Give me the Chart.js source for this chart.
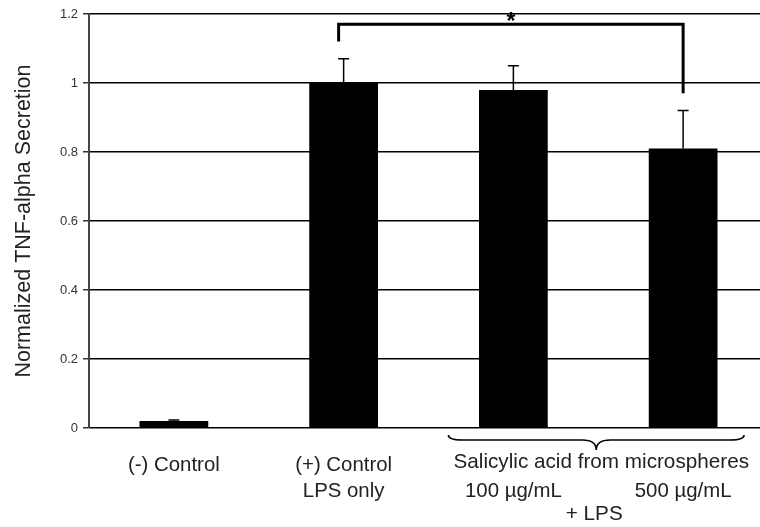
<!DOCTYPE html>
<html lang="en">
<head>
  <meta charset="UTF-8">
  <title>TNF-alpha Secretion</title>
  <script src="https://cdn.jsdelivr.net/npm/chart.js"></script>
  <style>
    html, body { margin: 0; padding: 0; background: #fff; overflow: hidden; }
    canvas { display: block; }
  </style>
</head>
<body>
  <canvas id="grafico" width="768" height="527"></canvas>

  <script>
    // data
    const categories = [['(-) Control'], ['(+) Control', 'LPS only'], ['', '100 µg/mL'], ['', '500 µg/mL']];
    const values = [0.02, 1.0, 0.98, 0.81];
    const errors = [0.003, 0.07, 0.07, 0.11];
    const yTicks = [0, 0.2, 0.4, 0.6, 0.8, 1, 1.2];
    const groupLabel = 'Salicylic acid from microspheres';
    const groupSub = '+ LPS';
    const yTitle = 'Normalized TNF-alpha Secretion';
    // significance bracket between (+) Control and 500 µg/mL
    const sigFrom = 1, sigTo = 3;
    const sigLevels = [1.12, 1.17, 0.97];
    const sigMark = '*';

    const FONT = "'Liberation Sans', Arial, sans-serif";
    const TEXT = '#222';

    const extras = {
      id: 'extras',
      afterDatasetsDraw(chart) {
        const ctx = chart.ctx;
        const x = chart.scales.x, y = chart.scales.y;
        const area = chart.chartArea;
        ctx.save();

        // error bars (upper only)
        ctx.strokeStyle = '#000';
        ctx.lineWidth = 1.5;
        values.forEach((v, i) => {
          const cx = x.getPixelForValue(i);
          const y0 = y.getPixelForValue(v);
          const y1 = y.getPixelForValue(v + errors[i]);
          ctx.beginPath();
          ctx.moveTo(cx, y0);
          ctx.lineTo(cx, y1);
          ctx.moveTo(cx - 5.5, y1);
          ctx.lineTo(cx + 5.5, y1);
          ctx.stroke();
        });

        // significance bracket
        const bx1 = x.getPixelForValue(sigFrom) - 5;
        const bx2 = x.getPixelForValue(sigTo);
        ctx.lineWidth = 3;
        ctx.lineCap = 'butt';
        ctx.beginPath();
        ctx.moveTo(bx1, y.getPixelForValue(sigLevels[0]));
        ctx.lineTo(bx1, y.getPixelForValue(sigLevels[1]));
        ctx.lineTo(bx2, y.getPixelForValue(sigLevels[1]));
        ctx.lineTo(bx2, y.getPixelForValue(sigLevels[2]));
        ctx.stroke();
        ctx.fillStyle = '#000';
        ctx.font = 'bold 23px ' + FONT;
        ctx.textAlign = 'center';
        ctx.textBaseline = 'top';
        ctx.fillText(sigMark, (bx1 + bx2) / 2, area.top - 3);

        // curly brace under the two salicylic acid bars
        const l = x.getPixelForValue(2) - 65;
        const r = x.getPixelForValue(3) + 61;
        const m = (l + r) / 2;
        const top = area.bottom + 7, mid = area.bottom + 12, tip = area.bottom + 22;
        ctx.lineWidth = 1.6;
        ctx.beginPath();
        ctx.moveTo(l, top);
        ctx.quadraticCurveTo(l, mid, l + 14, mid);
        ctx.lineTo(m - 14, mid);
        ctx.quadraticCurveTo(m, mid, m, tip);
        ctx.quadraticCurveTo(m, mid, m + 14, mid);
        ctx.lineTo(r - 14, mid);
        ctx.quadraticCurveTo(r, mid, r, top);
        ctx.stroke();

        // group labels
        ctx.fillStyle = TEXT;
        ctx.font = '20.7px ' + FONT;
        ctx.textBaseline = 'top';
        ctx.fillText(groupLabel, m + 5, area.bottom + 24);
        ctx.fillText(groupSub, m - 2, area.bottom + 76);
        ctx.restore();
      }
    };

    new Chart(document.getElementById('grafico'), {
      type: 'bar',
      data: {
        labels: categories,
        datasets: [{
          data: values,
          backgroundColor: '#000',
          borderWidth: 0,
          categoryPercentage: 1,
          barPercentage: 0.405
        }]
      },
      options: {
        responsive: false,
        animation: false,
        layout: { padding: { top: 14, right: 0, left: 0, bottom: 0 } },
        plugins: { legend: { display: false }, tooltip: { enabled: false } },
        scales: {
          x: {
            grid: { display: false, drawTicks: false },
            border: { display: false },
            ticks: { color: TEXT, font: { family: FONT, size: 20.4, lineHeight: 1.28 }, padding: 24, maxRotation: 0 },
            afterFit(s) { s.height = 99; }
          },
          y: {
            min: 0,
            max: 1.2,
            afterBuildTicks(s) { s.ticks = yTicks.map(v => ({ value: v })); },
            ticks: {
              color: '#333',
              font: { family: FONT, size: 13 },
              padding: 5,
              callback: v => String(+v.toFixed(1))
            },
            grid: { color: '#000', lineWidth: 1.5, tickLength: 6, tickColor: '#333' },
            border: { display: true, color: '#444', width: 2 },
            title: {
              display: true,
              text: yTitle,
              color: TEXT,
              font: { family: FONT, size: 21.5 },
              padding: { top: 11, bottom: 0 }
            },
            afterFit(s) { s.width = 89; }
          }
        }
      },
      plugins: [extras]
    });
  </script>
</body>
</html>
